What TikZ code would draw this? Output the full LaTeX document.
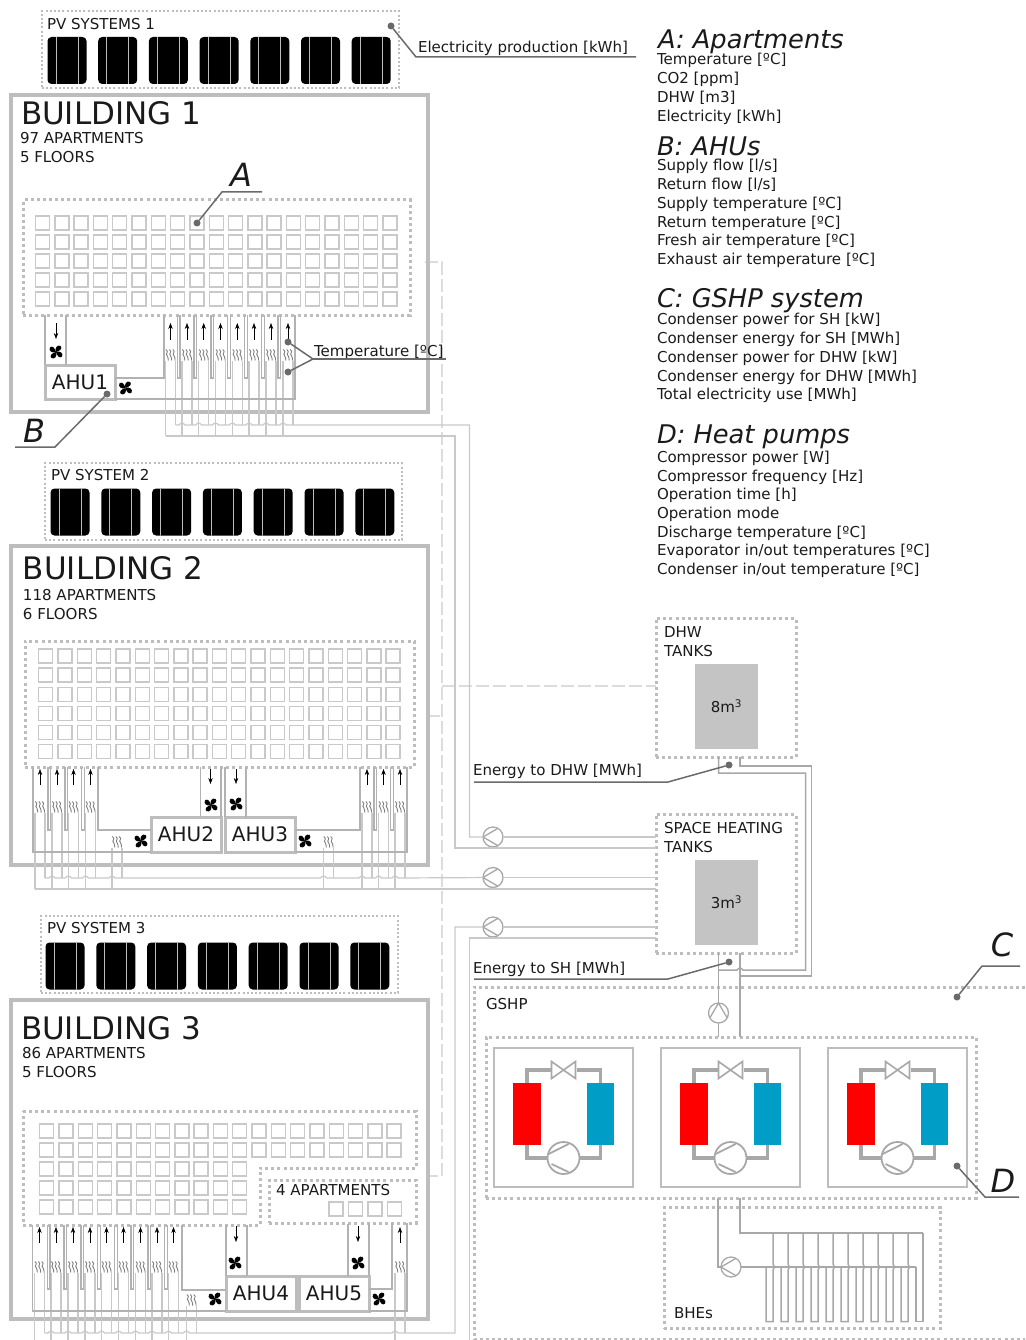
\documentclass[tikz,border=0pt]{standalone}
\usepackage{fontspec}
\setmainfont{DejaVu Sans}
\usepackage{xcolor}
\usetikzlibrary{positioning, arrows.meta, calc}

\definecolor{wallgray}{HTML}{BDBDBD}
\definecolor{pipegray}{HTML}{C9C9C9}
\definecolor{ductgray}{HTML}{B2B2B2}
\definecolor{darkpipe}{HTML}{A8A8A8}
\definecolor{leadgray}{HTML}{6A6A6A}
\definecolor{tankgray}{HTML}{C4C4C4}
\definecolor{hotred}{HTML}{FF0000}
\definecolor{coldblue}{HTML}{009DC6}
\definecolor{inktext}{HTML}{1A1A1A}

\tikzset{
    fanpic/.pic={
        \foreach \a in {45,135,225,315}
            \fill[black, rotate=\a] (0,0) .. controls (-4,-1.5) and (-4.5,-6.5) .. (-1,-7.5) .. controls (2.5,-7.5) and (1.8,-3) .. (0,0);
    },
    coilpic/.pic={
        \foreach \d in {-3.4,0,3.4}
            \draw[leadgray!85, line width=0.9pt] (\d-1.2,-5.5) .. controls (\d+2.6,-3) and (\d-2.6,-1) .. (\d,0.5) .. controls (\d+2.6,2) and (\d-0.5,3.5) .. (\d+1.2,5.5);
    }
}

\begin{document}
\begin{tikzpicture}[
        x=1pt, y=-1pt,
        every node/.style={inner sep=0pt, outer sep=0pt, text=inktext},
        building/.style={draw=wallgray, line width=3.6pt, rectangle},
        dotbox/.style={draw=wallgray, line width=3pt, dash pattern=on 3pt off 3.1pt, rectangle},
        pvbox/.style={draw=wallgray, line width=2pt, dash pattern=on 2pt off 2.2pt, rectangle},
        dotline/.style={draw=wallgray, line width=3pt, dash pattern=on 3pt off 3.1pt},
        panel/.style={rectangle, rounded corners=4pt, fill=black, minimum width=39pt, minimum height=47pt,
            path picture={\draw[wallgray, line width=0.9pt] ([shift={(-11,-30)}]path picture bounding box.center) -- ([shift={(-11,30)}]path picture bounding box.center);
                \draw[wallgray, line width=0.9pt] ([shift={(11,-30)}]path picture bounding box.center) -- ([shift={(11,30)}]path picture bounding box.center);}},
        apt/.style={draw=pipegray, line width=1.4pt, rectangle, minimum size=14pt},
        ahu/.style={draw=wallgray, fill=white, line width=3pt, rectangle, minimum width=70pt, minimum height=35pt, font=\fontsize{20}{24}\selectfont},
        duct/.style={draw=ductgray, line width=1.2pt},
        pipe/.style={draw=pipegray, line width=1.2pt},
        mainpipe/.style={draw=darkpipe, line width=1.5pt},
        sensor/.style={draw=pipegray!65, line width=1.5pt, dash pattern=on 13pt off 4pt},
        airarrow/.style={-{Stealth[length=6pt,width=4.4pt]}, draw=black, line width=0.5pt},
        leader/.style={draw=leadgray, line width=1.5pt},
        sdot/.style={circle, fill=leadgray, minimum size=7pt},
        lbl/.style={anchor=west, font=\fontsize{15.05}{18.7}\selectfont},
        bigname/.style={anchor=west, font=\fontsize{31}{35}\selectfont},
        letter/.style={font=\fontsize{32}{36}\selectfont\itshape},
        listhead/.style={anchor=west, font=\fontsize{25.7}{30}\selectfont\itshape},
        listtext/.style={anchor=north west, align=left, font=\fontsize{15.05}{18.7}\selectfont},
        tank/.style={fill=tankgray, rectangle, minimum width=63pt, minimum height=85pt, font=\fontsize{15}{18}\selectfont},
        pumpnode/.style={draw=darkpipe, fill=white, circle, line width=1.3pt, minimum size=20pt,
            path picture={\draw[darkpipe, line width=1.3pt] ([shift={(5,-8.7)}]path picture bounding box.center) -- ([shift={(-10,0)}]path picture bounding box.center) -- ([shift={(5,8.7)}]path picture bounding box.center);}},
        compnode/.style={draw=darkpipe, fill=white, circle, line width=1.8pt, minimum size=32pt,
            path picture={\draw[darkpipe, line width=1.8pt] ([shift={(-15,-4)}]path picture bounding box.center) -- ([shift={(5,-14)}]path picture bounding box.center);
                \draw[darkpipe, line width=1.8pt] ([shift={(-12,6)}]path picture bounding box.center) -- ([shift={(5,14)}]path picture bounding box.center);}},
        valvenode/.style={fill=white, rectangle, minimum width=26pt, minimum height=19pt,
            path picture={\draw[darkpipe, line width=1.6pt] ([shift={(-12,-8.5)}]path picture bounding box.center) -- ([shift={(12,8.5)}]path picture bounding box.center) -- ([shift={(12,-8.5)}]path picture bounding box.center) -- ([shift={(-12,8.5)}]path picture bounding box.center) -- cycle;}},
        hpbox/.style={draw=wallgray, line width=1.8pt, rectangle, minimum width=139pt, minimum height=139pt},
        hploop/.style={draw=darkpipe, line width=3.2pt}
    ]
    \useasboundingbox (0,0) rectangle (1025,1340);

    % --- Sensor line ---
    \node[dotbox, minimum width=140pt, minimum height=139pt] (dhwbox) at (726,687.5) {};
    \node[dotbox, minimum width=140pt, minimum height=139pt] (shbox) at (726,883.5) {};
    \coordinate (sensortop) at (442,262);
    \coordinate (sensorbot) at (442,1176);
    \draw[sensor] (425,262) -- (sensortop) -- (sensorbot) -- (427,1176);
    \draw[sensor] (427,716) -- (442,716);
    \draw[sensor] (442,686) -- (dhwbox.west |- 442,686);

    % --- Pumps to buildings ---
    \node[pumpnode] (pumpa) at (493,837) {};
    \node[pumpnode] (pumpb) at (493,877.5) {};
    \node[pumpnode] (pumpc) at (493,927) {};

    % --- Building 1 ---
    \node[pvbox, minimum width=357pt, minimum height=77pt] (pvboxa) at (220.5,49.5) {};
    \node[lbl] (pvlabela) at (47,24) {PV SYSTEMS 1};
    \foreach \i in {0,...,6}
        \node[panel] (pva\i) at ({67+50.7*\i},60.5) {};
    \node[building, minimum width=417pt, minimum height=317pt] (builda) at (219.5,253.5) {};
    \node[bigname] (nameba) at (21,113) {BUILDING 1};
    \node[lbl] (infoa) at (20,138) {97 APARTMENTS};
    \node[lbl] (floora) at (20,157) {5 FLOORS};
    \node[dotbox, minimum width=387pt, minimum height=115pt] (aptboxa) at (216.5,257.5) {};
    \foreach \r in {0,...,4}
        \foreach \c in {0,...,18}
            \node[apt] (apta\r\c) at ({42.5+19.3*\c},{223+19*\r}) {};

    \foreach \x in {170.5,187,203.7,220.5,237.3,254,271,288} {
        \pic at (\x,355) {coilpic};
        \draw[airarrow] (\x,340) -- (\x,323);
        \draw[pipe] (\x-5,361) -- (\x-5,436);
        \draw[pipe] (\x+5,361) -- (\x+5,425);
    }
    \foreach \x in {177.3,194,211,227.7,244.5,261.5,278}
        \draw[duct] (\x,315) -- (\x,378) -- (\x+2.6,378) -- (\x+2.6,315);
    \draw[pipe] (175.5,425) foreach \h in {182,198.7,215.5,232.3,249,266,283} { -- (\h-3,425) .. controls (\h-1,422.5) and (\h+1,422.5) .. (\h+3,425)} -- (469.5,425) |- (pumpa);
    \draw[pipe] (pumpa) -- (pumpa -| shbox.west);
    \coordinate (returna) at (shbox.west |- 455,848);
    \draw[pipe] (165.5,436) -- (455,436) |- (returna);

    \node[ahu, minimum width=70pt, minimum height=34pt] (ahua) at (80,382) {AHU1};
    \coordinate (ducta) at (66,365);
    \draw[duct] (ahua.north west) -- (ahua.north west |- aptboxa.south);
    \draw[duct] (ducta) -- (ducta |- aptboxa.south);
    \draw[airarrow] (56,323) -- (56,339);
    \pic at (56,352) {fanpic};
    \pic at (125.5,388) {fanpic};
    \coordinate (returnda) at (295,399);
    \coordinate (supplyda) at (164,378);
    \draw[duct] (supplyda -| ahua.east) -- (supplyda) -- (supplyda |- aptboxa.south);
    \draw[duct] (ahua.south east) -- (returnda) -- (returnda |- aptboxa.south);

    % --- Building 2 ---
    \node[pvbox, minimum width=357pt, minimum height=77pt] (pvboxb) at (223.5,501.5) {};
    \node[lbl] (pvlabelb) at (51,475) {PV SYSTEM 2};
    \foreach \i in {0,...,6}
        \node[panel] (pvb\i) at ({70+50.8*\i},512) {};
    \node[building, minimum width=417pt, minimum height=319pt] (buildb) at (219.5,705.5) {};
    \node[bigname] (namebb) at (23,568) {BUILDING 2};
    \node[lbl] (infob) at (23,595) {118 APARTMENTS};
    \node[lbl] (floorb) at (23,614) {6 FLOORS};
    \node[dotbox, minimum width=389pt, minimum height=126pt] (aptboxb) at (219.5,704) {};
    \foreach \r in {0,...,5}
        \foreach \c in {0,...,18}
            \node[apt] (aptb\r\c) at ({45.7+19.3*\c},{656+19.1*\r}) {};

    \foreach \x in {40,57,73.5,90.5,367,383.5,400} {
        \pic at (\x,807) {coilpic};
        \draw[airarrow] (\x,785) -- (\x,769);
        \draw[pipe] (\x-5,813) -- (\x-5,889);
        \draw[pipe] (\x+5,813) -- (\x+5,878);
    }
    \foreach \x in {48,65,81.5,374,390.7}
        \draw[duct] (\x,767) -- (\x,830) -- (\x+2.6,830) -- (\x+2.6,767);
    \foreach \x in {117,328.5} {
        \pic at (\x,842) {coilpic};
        \draw[pipe] (\x-5,848) -- (\x-5,889);
        \draw[pipe] (\x+5,848) -- (\x+5,878);
    }
    \draw[pipe] (45,878) foreach \h in {52,68.5,85.5,112,323.5,362,378.5,395} { -- (\h-3,878) .. controls (\h-1,875.5) and (\h+1,875.5) .. (\h+3,878)} -- (pumpb);
    \draw[pipe] (pumpb) -- (pumpb -| shbox.west);
    \coordinate (returnb) at (shbox.west |- 455,889);
    \draw[pipe] (35,889) -- (returnb);

    \node[ahu] (ahub) at (186,834.5) {AHU2};
    \node[ahu] (ahuc) at (260,834.5) {AHU3};
    \draw[duct] (ahub.north east) -- (ahub.north east |- aptboxb.south);
    \draw[duct] (200.5,817) -- (200.5,767);
    \draw[duct] (ahuc.north west) -- (ahuc.north west |- aptboxb.south);
    \draw[duct] (246,817) -- (246,767);
    \draw[airarrow] (210.5,769) -- (210.5,784);
    \draw[airarrow] (236,769) -- (236,784);
    \pic at (211,805) {fanpic};
    \pic at (236,804) {fanpic};
    \pic at (141,841) {fanpic};
    \pic at (305,841) {fanpic};
    \coordinate (supplydb) at (98,830);
    \coordinate (returndb) at (33,852);
    \coordinate (supplydc) at (360,830);
    \coordinate (returndc) at (407,852);
    \draw[duct] (supplydb -| ahub.west) -- (supplydb) -- (supplydb |- aptboxb.south);
    \draw[duct] (ahub.south west) -- (returndb) -- (returndb |- aptboxb.south);
    \draw[duct] (supplydc -| ahuc.east) -- (supplydc) -- (supplydc |- aptboxb.south);
    \draw[duct] (ahuc.south east) -- (returndc) -- (returndc |- aptboxb.south);

    % --- Building 3 ---
    \node[pvbox, minimum width=357pt, minimum height=77pt] (pvboxc) at (219.5,954.5) {};
    \node[lbl] (pvlabelc) at (47,928) {PV SYSTEM 3};
    \foreach \i in {0,...,6}
        \node[panel] (pvc\i) at ({65+50.8*\i},966) {};
    \node[building, minimum width=417pt, minimum height=319pt] (buildc) at (219.5,1159.5) {};
    \node[bigname] (namebc) at (21,1028) {BUILDING 3};
    \node[lbl] (infoc) at (22,1053) {86 APARTMENTS};
    \node[lbl] (floorc) at (22,1072) {5 FLOORS};
    \draw[dotline] (23,1111) -- (416,1111) -- (416,1168) -- (260,1168) -- (260,1225) -- (23,1225) -- cycle;
    \node[dotbox, minimum width=147pt, minimum height=43pt] (aptboxd) at (342.5,1201.5) {};
    \node[lbl] (infod) at (276,1190) {4 APARTMENTS};
    \foreach \r in {0,1}
        \foreach \c in {0,...,18}
            \node[apt] (aptc\r\c) at ({46.7+19.3*\c},{1131+19*\r}) {};
    \foreach \r in {2,3,4}
        \foreach \c in {0,...,10}
            \node[apt] (aptc\r\c) at ({46.7+19.3*\c},{1131+19*\r}) {};
    \foreach \c in {0,...,3}
        \node[apt] (aptd\c) at ({336+19.4*\c},1209) {};

    \coordinate (aptbotc) at (23,1225);
    \foreach \x in {39.5,56,73,90,106.5,123.5,140.5,157,173.5,400} {
        \pic at (\x,1267) {coilpic};
        \draw[airarrow] (\x,1243) -- (\x,1227);
        \draw[pipe] (\x-5,1273) -- (\x-5,1340);
        \draw[pipe] (\x+5,1273) -- (\x+5,1333);
    }
    \foreach \x in {47.3,64,81,97.5,114.5,131,148,164.5}
        \draw[duct] (\x,1225) -- (\x,1289) -- (\x+2.6,1289) -- (\x+2.6,1225);
    \pic at (191.5,1300) {coilpic};
    \draw[pipe] (186.5,1306) -- (186.5,1340);
    \draw[pipe] (196.5,1306) -- (196.5,1333);
    \draw[pipe] (44.5,1333) foreach \h in {51,68,85,101.5,118.5,135.5,152,168.5,186.5,395} { -- (\h-3,1333) .. controls (\h-1,1330.5) and (\h+1,1330.5) .. (\h+3,1333)} -- (455,1333) |- (pumpc);
    \draw[pipe] (pumpc) -- (pumpc -| shbox.west);
    \coordinate (returnc) at (shbox.west |- 469.5,938);
    \draw[pipe] (469.5,1340) |- (returnc);

    \node[ahu] (ahud) at (261,1293.5) {AHU4};
    \node[ahu] (ahue) at (334,1293.5) {AHU5};
    \draw[duct] (ahud.north west) -- (ahud.north west |- aptbotc);
    \draw[duct] (247,1276) -- (247,1225);
    \draw[duct] (ahue.north east) -- (ahue.north east |- aptboxd.south);
    \draw[duct] (348,1276) -- (348,1224);
    \draw[airarrow] (236,1226) -- (236,1242);
    \draw[airarrow] (358,1226) -- (358,1242);
    \pic at (235,1263) {fanpic};
    \pic at (358,1263) {fanpic};
    \pic at (215,1299) {fanpic};
    \pic at (379,1299) {fanpic};
    \coordinate (supplydd) at (182,1290);
    \coordinate (returndd) at (32.5,1311);
    \coordinate (supplyde) at (392,1289);
    \coordinate (returnde) at (407,1311);
    \draw[duct] (supplydd -| ahud.west) -- (supplydd) -- (supplydd |- aptbotc);
    \draw[duct] (ahud.south west) -- (returndd) -- (returndd |- aptbotc);
    \draw[duct] (supplyde -| ahue.east) -- (supplyde) -- (supplyde |- aptboxd.south);
    \draw[duct] (ahue.south east) -- (returnde) -- (returnde |- aptboxd.south);

    % --- Tanks ---
    \node[lbl, align=left] (dhwlabel) at (664,641.5) {DHW\\TANKS};
    \node[tank] (dhwtank) at (726.5,706.5) {8m\textsuperscript{3}};
    \node[lbl] (shlabela) at (664,828) {SPACE HEATING};
    \node[lbl] (shlabelb) at (664,847) {TANKS};
    \node[tank] (shtank) at (726.5,902.5) {3m\textsuperscript{3}};

    % --- GSHP ---
    \draw[dotline] (1025,987) -- (474,987) -- (474,1339) -- (1025,1339);
    \node[lbl] (gshplabel) at (486,1004) {GSHP};
    \node[dotbox, minimum width=490pt, minimum height=161pt] (hpgroup) at (731,1117.5) {};
    \foreach \hx/\hn in {0/a,167/b,334/c} {
        \begin{scope}[xshift=\hx pt]
            \node[hpbox] (hp\hn) at (563.5,1117.5) {};
            \node[valvenode] (valve\hn) at (563.5,1070) {};
            \node[compnode] (comp\hn) at (563.5,1158) {};
            \node[rectangle, fill=hotred, minimum width=27.5pt, minimum height=62pt] (cond\hn) at (527,1114) {};
            \node[rectangle, fill=coldblue, minimum width=27.5pt, minimum height=62pt] (evap\hn) at (600.7,1114) {};
            \draw[hploop] (cond\hn.north) |- (valve\hn.west);
            \draw[hploop] (evap\hn.north) |- (valve\hn.east);
            \draw[hploop] (cond\hn.south) |- (comp\hn.west);
            \draw[hploop] (evap\hn.south) |- (comp\hn.east);
        \end{scope}
    }

    % --- Pipes between tanks and GSHP ---
    \node[pumpnode, rotate=-90] (pumpg) at (718.5,1013) {};
    \coordinate (hotin) at (718.5,773);
    \coordinate (hotout) at (740,766);
    \draw[mainpipe] (hotin |- dhwbox.south) -- (hotin) -- (805.5,773) -- (805.5,970) -- (743,970) .. controls (741,967.5) and (739,967.5) .. (737,970) -- (718.5,970);
    \draw[mainpipe] (hotout |- dhwbox.south) -- (hotout) -- (811.5,766) -- (811.5,976) -- (740,976);
    \draw[mainpipe] (hotin |- shbox.south) -- (pumpg);
    \draw[mainpipe] (pumpg) -- (hotin |- hpgroup.north);
    \draw[mainpipe] (hotout |- shbox.south) -- (hotout |- hpgroup.north);

    % --- BHEs ---
    \node[dotbox, minimum width=276pt, minimum height=121pt] (bhebox) at (802,1268) {};
    \node[lbl] (bhelabel) at (674,1313) {BHEs};
    \node[pumpnode] (pumph) at (731,1267) {};
    \coordinate (bhein) at (718,1267);
    \coordinate (bheout) at (740,1233);
    \draw[mainpipe] (bhein |- hpgroup.south) -- (bhein) -- (pumph);
    \draw[mainpipe] (bheout |- hpgroup.south) -- (bheout) -- (923,1233);
    \draw[mainpipe] (pumph) -- (916,1267);
    \foreach \i in {0,...,9}
        \draw[mainpipe] ({766+15*\i},1267) -- ({766+15*\i},1321.5) -- ({773+15*\i},1321.5) -- ({773+15*\i},1270) .. controls ({775+15*\i},1268) and ({775+15*\i},1266) .. ({773+15*\i},1264) -- ({773+15*\i},1233);
    \draw[mainpipe] (916,1267) -- (916,1321.5) -- (923,1321.5) -- (923,1233);

    % --- Labels with leaders ---
    \node[sdot] (dotpv) at (391,26) {};
    \node[lbl] (elabel) at (418,48) {Electricity production [kWh]};
    \coordinate (ekink) at (416,57);
    \draw[leader] (dotpv) -- (ekink) -- (636,57);

    \node[letter] (lettera) at (241,175) {A};
    \node[sdot] (dota) at (197,223) {};
    \coordinate (akink) at (222,192);
    \draw[leader] (dota) -- (akink) -- (262,192);

    \node[letter] (letterb) at (34,431) {B};
    \node[sdot] (dotb) at (107,394) {};
    \coordinate (bkink) at (55,447);
    \draw[leader] (dotb) -- (bkink) -- (15,447);

    \node[sdot] (dott) at (288,342) {};
    \node[sdot] (dotu) at (288,372) {};
    \node[lbl] (tlabel) at (314,352) {Temperature [ºC]};
    \coordinate (tkink) at (313,359);
    \draw[leader] (dott) -- (tkink) -- (dotu);
    \draw[leader] (tkink) -- (446,359);

    \node[sdot] (dotd) at (729,765) {};
    \node[lbl] (dhwenergy) at (473,771) {Energy to DHW [MWh]};
    \coordinate (dhwkink) at (668,782);
    \draw[leader] (dotd) -- (dhwkink) -- (474,782);

    \node[sdot] (dots) at (729,962) {};
    \node[lbl] (shenergy) at (473,969) {Energy to SH [MWh]};
    \coordinate (shkink) at (668,979);
    \draw[leader] (dots) -- (shkink) -- (474,979);

    \node[letter] (letterc) at (1002,945) {C};
    \node[sdot] (dotc) at (957,997) {};
    \coordinate (ckink) at (982,966);
    \draw[leader] (dotc) -- (ckink) -- (1020,966);

    \node[letter] (letterd) at (1003,1181) {D};
    \node[sdot] (dotg) at (957,1166) {};
    \coordinate (dkink) at (985,1197);
    \draw[leader] (dotg) -- (dkink) -- (1019,1197);

    % --- Variable lists ---
    \node[listhead] (heada) at (658,42) {A: Apartments};
    \node[listtext] (lista) at (657,53.5) {Temperature [ºC]\\CO2 [ppm]\\DHW [m3]\\Electricity [kWh]};
    \node[listhead] (headb) at (657,146) {B: AHUs};
    \node[listtext] (listb) at (657,159.5) {Supply flow [l/s]\\Return flow [l/s]\\Supply temperature [ºC]\\Return temperature [ºC]\\Fresh air temperature [ºC]\\Exhaust air temperature [ºC]};
    \node[listhead] (headc) at (657,301) {C: GSHP system};
    \node[listtext] (listc) at (657,313.5) {Condenser power for SH [kW]\\Condenser energy for SH [MWh]\\Condenser power for DHW [kW]\\Condenser energy for DHW [MWh]\\Total electricity use [MWh]};
    \node[listhead] (headd) at (657,437) {D: Heat pumps};
    \node[listtext] (listd) at (657,451) {Compressor power [W]\\Compressor frequency [Hz]\\Operation time [h]\\Operation mode\\Discharge temperature [ºC]\\Evaporator in/out temperatures [ºC]\\Condenser in/out temperature [ºC]};

    \end{tikzpicture}
\end{document}
